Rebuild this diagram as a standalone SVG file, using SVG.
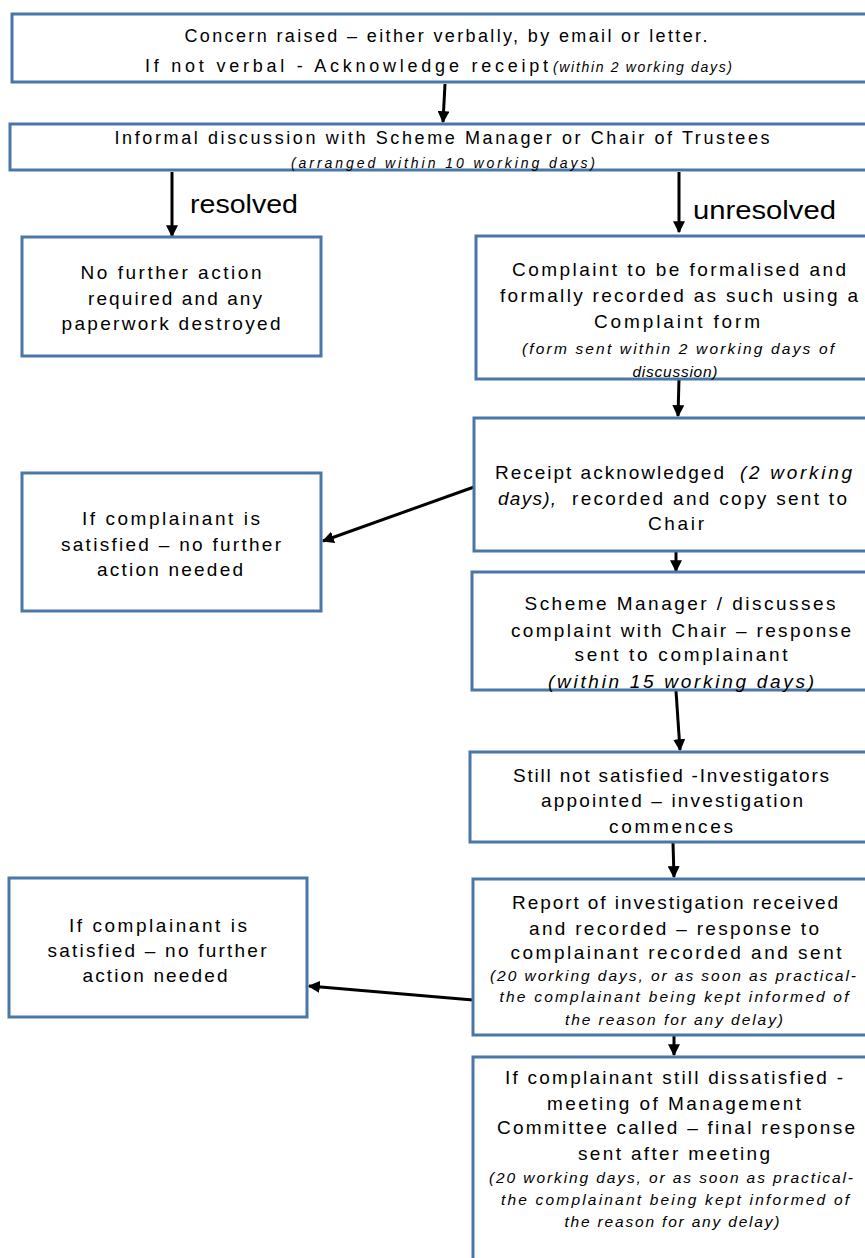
<svg xmlns="http://www.w3.org/2000/svg" width="865" height="1258" viewBox="0 0 865 1258">
<style>
.b{fill:#fff;stroke:#4a76a8;stroke-width:3}
.t{font-family:"Liberation Sans",Arial,sans-serif;font-size:19px;fill:#000;text-anchor:middle}
.s{text-anchor:start}
.i{font-style:italic;font-size:15.5px}
.c{stroke:#000;stroke-width:3;fill:none;marker-end:url(#ah)}
.lbl{font-family:"Liberation Sans",Arial,sans-serif;font-size:25px;fill:#000}
</style>
<defs>
<marker id="ah" viewBox="0 0 10 10" refX="9" refY="5" markerWidth="4" markerHeight="4" orient="auto" markerUnits="strokeWidth">
<path d="M0,0 L10,5 L0,10 z" fill="#000"/>
</marker>
</defs>
<rect width="865" height="1258" fill="#fff"/>
<g id="connectors">
<line class="c" x1="445" y1="84" x2="443" y2="122"/>
<line class="c" x1="172" y1="172" x2="172" y2="236"/>
<line class="c" x1="679" y1="172" x2="679" y2="232"/>
<line class="c" x1="679" y1="379" x2="678" y2="416"/>
<line class="c" x1="474" y1="487" x2="323" y2="541"/>
<line class="c" x1="676" y1="551" x2="676" y2="571"/>
<line class="c" x1="676" y1="691" x2="680" y2="750"/>
<line class="c" x1="673" y1="843" x2="674" y2="877"/>
<line class="c" x1="473" y1="1000" x2="309" y2="986"/>
<line class="c" x1="674" y1="1036" x2="674" y2="1055"/>
<text class="lbl" x="190" y="213" textLength="108" lengthAdjust="spacingAndGlyphs">resolved</text>
<text class="lbl" x="693" y="219" textLength="143" lengthAdjust="spacingAndGlyphs">unresolved</text>
</g>
<g id="n1">
<rect class="b" x="12" y="14" width="870" height="68"/>
<text class="t" x="446" y="42" textLength="523" lengthAdjust="spacing" style="font-size:18px">Concern raised – either verbally, by email or letter.</text>
<text class="t s" x="145" y="72" textLength="403" lengthAdjust="spacing" style="font-size:18px">If not verbal -  Acknowledge receipt</text>
<text class="t s i" x="553" y="72" textLength="179" lengthAdjust="spacing" style="font-size:14px">(within 2 working days)</text>
</g>
<g id="n2">
<rect class="b" x="10" y="124" width="872" height="46"/>
<text class="t" x="442" y="144" textLength="655" lengthAdjust="spacing" style="font-size:18px">Informal discussion with Scheme Manager  or Chair of Trustees</text>
<text class="t i" x="443" y="168" textLength="304" lengthAdjust="spacing" style="font-size:14px">(arranged within  10 working  days)</text>
</g>
<g id="n3">
<rect class="b" x="22" y="237" width="299" height="119"/>
<text class="t" x="171" y="279" textLength="181" lengthAdjust="spacing">No further action</text>
<text class="t" x="175" y="305" textLength="174" lengthAdjust="spacing">required and any</text>
<text class="t" x="171" y="330" textLength="219" lengthAdjust="spacing">paperwork destroyed</text>
</g>
<g id="n4">
<rect class="b" x="476" y="236" width="406" height="143"/>
<text class="t" x="679" y="276" textLength="334" lengthAdjust="spacing">Complaint to be formalised and</text>
<text class="t" x="679" y="302" textLength="358" lengthAdjust="spacing">formally recorded  as such using a</text>
<text class="t" x="677" y="328" textLength="166" lengthAdjust="spacing">Complaint form</text>
<text class="t i" x="678" y="354" textLength="312" lengthAdjust="spacing">(form sent within  2 working days of</text>
<text class="t i" x="675" y="377" textLength="85" lengthAdjust="spacing">discussion)</text>
</g>
<g id="n5">
<rect class="b" x="474" y="418" width="408" height="133"/>
<text class="t s" x="495" y="479" textLength="229" lengthAdjust="spacing">Receipt acknowledged</text>
<text class="t s i" x="740" y="479" textLength="112" lengthAdjust="spacing" style="font-size:19px">(2 working</text>
<text class="t s i" x="498" y="505" textLength="58" lengthAdjust="spacing" style="font-size:19px">days),</text>
<text class="t s" x="572" y="505" textLength="275" lengthAdjust="spacing">recorded and copy sent to</text>
<text class="t" x="676" y="530" textLength="56" lengthAdjust="spacing">Chair</text>
</g>
<g id="n6">
<rect class="b" x="22" y="473" width="299" height="138"/>
<text class="t" x="171" y="525" textLength="178" lengthAdjust="spacing">If complainant is</text>
<text class="t" x="171" y="551" textLength="220" lengthAdjust="spacing">satisfied – no further</text>
<text class="t" x="170" y="576" textLength="146" lengthAdjust="spacing">action needed</text>
</g>
<g id="n7">
<rect class="b" x="472" y="572" width="410" height="118"/>
<text class="t" x="680" y="610" textLength="311" lengthAdjust="spacing">Scheme Manager  / discusses</text>
<text class="t" x="681" y="637" textLength="340" lengthAdjust="spacing">complaint with Chair – response</text>
<text class="t" x="681" y="661" textLength="213" lengthAdjust="spacing">sent to complainant</text>
<text class="t i" x="681" y="688" textLength="266" lengthAdjust="spacing" style="font-size:19px">(within 15 working days)</text>
</g>
<g id="n8">
<rect class="b" x="470" y="752" width="412" height="90"/>
<text class="t" x="671" y="782" textLength="316" lengthAdjust="spacing">Still not satisfied -Investigators</text>
<text class="t" x="672" y="807" textLength="262" lengthAdjust="spacing">appointed – investigation</text>
<text class="t" x="671" y="833" textLength="124" lengthAdjust="spacing">commences</text>
</g>
<g id="n9">
<rect class="b" x="473" y="879" width="409" height="156"/>
<text class="t" x="675" y="909" textLength="326" lengthAdjust="spacing">Report of investigation received</text>
<text class="t" x="674" y="935" textLength="290" lengthAdjust="spacing">and recorded  – response to</text>
<text class="t" x="676" y="959" textLength="331" lengthAdjust="spacing">complainant recorded  and sent</text>
<text class="t i" x="673" y="981" textLength="366" lengthAdjust="spacing">(20 working  days, or as soon as practical-</text>
<text class="t i" x="674" y="1002" textLength="349" lengthAdjust="spacing">the complainant  being kept informed of</text>
<text class="t i" x="674" y="1025" textLength="218" lengthAdjust="spacing">the reason  for any delay)</text>
</g>
<g id="n10">
<rect class="b" x="9" y="878" width="298" height="139"/>
<text class="t" x="158" y="932" textLength="178" lengthAdjust="spacing">If complainant is</text>
<text class="t" x="157" y="957" textLength="219" lengthAdjust="spacing">satisfied – no further</text>
<text class="t" x="155" y="982" textLength="145" lengthAdjust="spacing">action needed</text>
</g>
<g id="n11">
<rect class="b" x="473" y="1057" width="409" height="220"/>
<text class="t" x="674" y="1084" textLength="338" lengthAdjust="spacing">If complainant still dissatisfied -</text>
<text class="t" x="674" y="1110" textLength="254" lengthAdjust="spacing">meeting of Management</text>
<text class="t" x="676" y="1134" textLength="358" lengthAdjust="spacing">Committee called – final response</text>
<text class="t" x="674" y="1160" textLength="192" lengthAdjust="spacing">sent after  meeting</text>
<text class="t i" x="671" y="1183" textLength="364" lengthAdjust="spacing">(20 working  days, or as soon as practical-</text>
<text class="t i" x="675" y="1205" textLength="348" lengthAdjust="spacing">the complainant  being kept informed of</text>
<text class="t i" x="672" y="1227" textLength="215" lengthAdjust="spacing">the reason  for any delay)</text>
</g>
</svg>
